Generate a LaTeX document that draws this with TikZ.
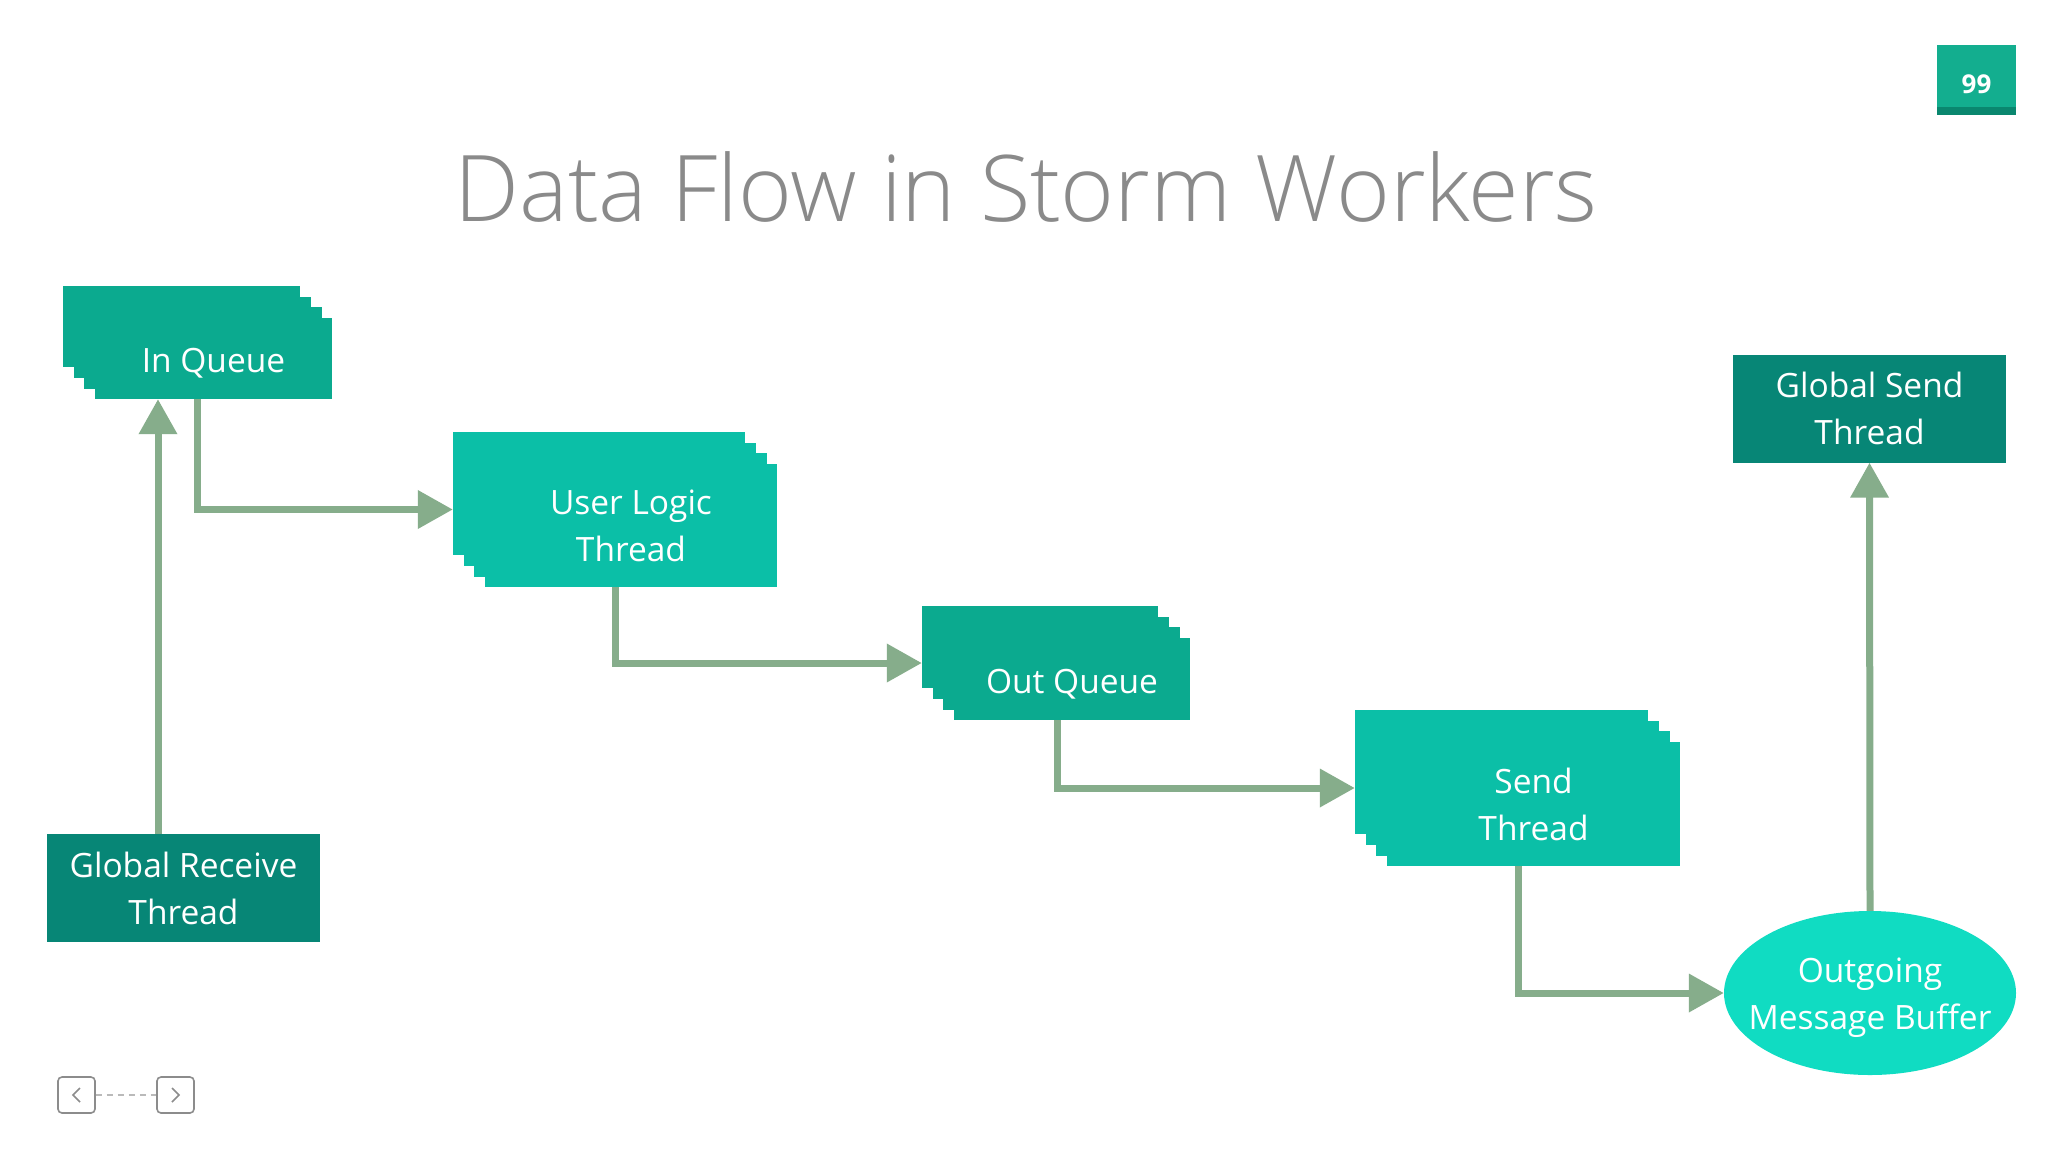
\documentclass[tikz,border=0pt]{standalone}
\usepackage{fontspec}
\setmainfont{Open Sans}
\newfontfamily\titlefont{Open Sans Light}
\usetikzlibrary{arrows.meta,shapes.geometric}
\pgfdeclarelayer{background}
\pgfsetlayers{background,main}
\definecolor{qcol}{HTML}{0BAA8F}
\definecolor{tcol}{HTML}{0BBFA7}
\definecolor{gcol}{HTML}{078676}
\definecolor{ecol}{HTML}{10DCC2}
\definecolor{acol}{HTML}{86AD8B}
\definecolor{ttl}{HTML}{8A8A8A}
\definecolor{pgcol}{HTML}{13AE8F}
\definecolor{pgdark}{HTML}{0A876F}
\definecolor{navcol}{HTML}{8C8C8C}
\tikzset{
  txt/.style={text=white,font=\fontsize{33.5}{47}\selectfont,align=center,inner sep=0pt},
  gbox/.style={txt,fill=gcol,minimum width=273pt,minimum height=108pt},
  flow/.style={draw=acol,line width=7pt,-{Triangle[length=35pt,width=37pt]}},
  navbox/.style={draw=navcol,line width=1.6pt,rounded corners=4pt,minimum width=37pt,minimum height=36pt,inner sep=0pt},
}
% stack of three copies behind a front box
\newcommand{\stackbehind}[2]{%
  \begin{pgfonlayer}{background}
  \foreach \s in {10.7,21.3,32}{
    \fill[#2] ([xshift=-\s pt,yshift=\s pt]#1.south west) rectangle ([xshift=-\s pt,yshift=\s pt]#1.north east);
  }
  \end{pgfonlayer}}
\begin{document}
\begin{tikzpicture}[x=1pt,y=-1pt]
\begin{pgfonlayer}{background}
\fill[white] (0,0) rectangle (2048,1152);
\end{pgfonlayer}
\useasboundingbox (0,0) rectangle (2048,1152);
% title
\node[anchor=base,text=ttl,font=\titlefont\fontsize{92}{100}\selectfont,inner sep=0pt] (title) at (1026,221) {Data Flow in Storm Workers};
% page number
\node[fill=pgcol,minimum width=79pt,minimum height=70pt,inner sep=0pt] (pg) at (1976.5,80) {};
\fill[pgdark] (pg.south west) rectangle ([yshift=8pt]pg.south east);
\node[text=white,font=\bfseries\fontsize{26}{30}\selectfont,inner sep=0pt] (pgnum) at (1976.5,84) {99};
% boxes
\node[txt,fill=qcol,minimum width=237pt,minimum height=81pt,text depth=0pt] (inq) at (213.5,358.5) {};
\node[txt] (inqtxt) at ([yshift=-5pt]inq.center) {In Queue};
\stackbehind{inq}{qcol}
\node[txt,fill=tcol,minimum width=292pt,minimum height=123pt] (ulogic) at (631,525.5) {User Logic\\Thread};
\stackbehind{ulogic}{tcol}
\node[txt,fill=qcol,minimum width=236pt,minimum height=82pt] (outq) at (1072,679) {};
\node[txt] (outqtxt) at ([yshift=-5pt]outq.center) {Out Queue};
\stackbehind{outq}{qcol}
\node[txt,fill=tcol,minimum width=293pt,minimum height=124pt] (send) at (1533.5,804) {Send\\Thread};
\stackbehind{send}{tcol}
\node[gbox] (grecv) at (183.5,888) {Global Receive\\Thread};
\node[gbox] (gsend) at (1869.5,408.5) {Global Send\\Thread};
\node[ellipse,fill=ecol,inner sep=0pt,minimum width=292pt,minimum height=164pt] (buf) at (1870,993) {};
\node[txt] (buftxt) at ([yshift=-5pt]buf.center) {Outgoing\\Message Buffer};
% helper coordinates
\coordinate (c1) at (158,0);
\coordinate (c2) at (197,0);
\coordinate (c3) at (615,0);
\coordinate (c4) at (1057,0);
\coordinate (c5) at (1518,0);
% connectors
\draw[flow] (grecv.north -| c1) -- (inq.south -| c1);
\draw[flow] (inq.south -| c2) |- ([xshift=-32pt,yshift=16pt]ulogic.west);
\draw[flow] (ulogic.south -| c3) |- ([xshift=-32pt,yshift=16pt]outq.west);
\draw[flow] (outq.south -| c4) |- ([xshift=-32pt,yshift=16pt]send.west);
\draw[flow] (send.south -| c5) |- (buf.west);
\draw[flow] (buf.north) -- (gsend.south);
% navigation
\node[navbox] (prev) at (76.5,1095) {};
\node[navbox] (next) at (175.5,1095) {};
\draw[navcol!60,line width=1.5pt,dash pattern=on 6pt off 5pt] (prev.east) -- (next.west);
\draw[navcol,line width=1.6pt] ([xshift=3.5pt,yshift=7pt]prev.center) -- ([xshift=-3.5pt]prev.center) -- ([xshift=3.5pt,yshift=-7pt]prev.center);
\draw[navcol,line width=1.6pt] ([xshift=-3.5pt,yshift=7pt]next.center) -- ([xshift=3.5pt]next.center) -- ([xshift=-3.5pt,yshift=-7pt]next.center);
\end{tikzpicture}
\end{document}
